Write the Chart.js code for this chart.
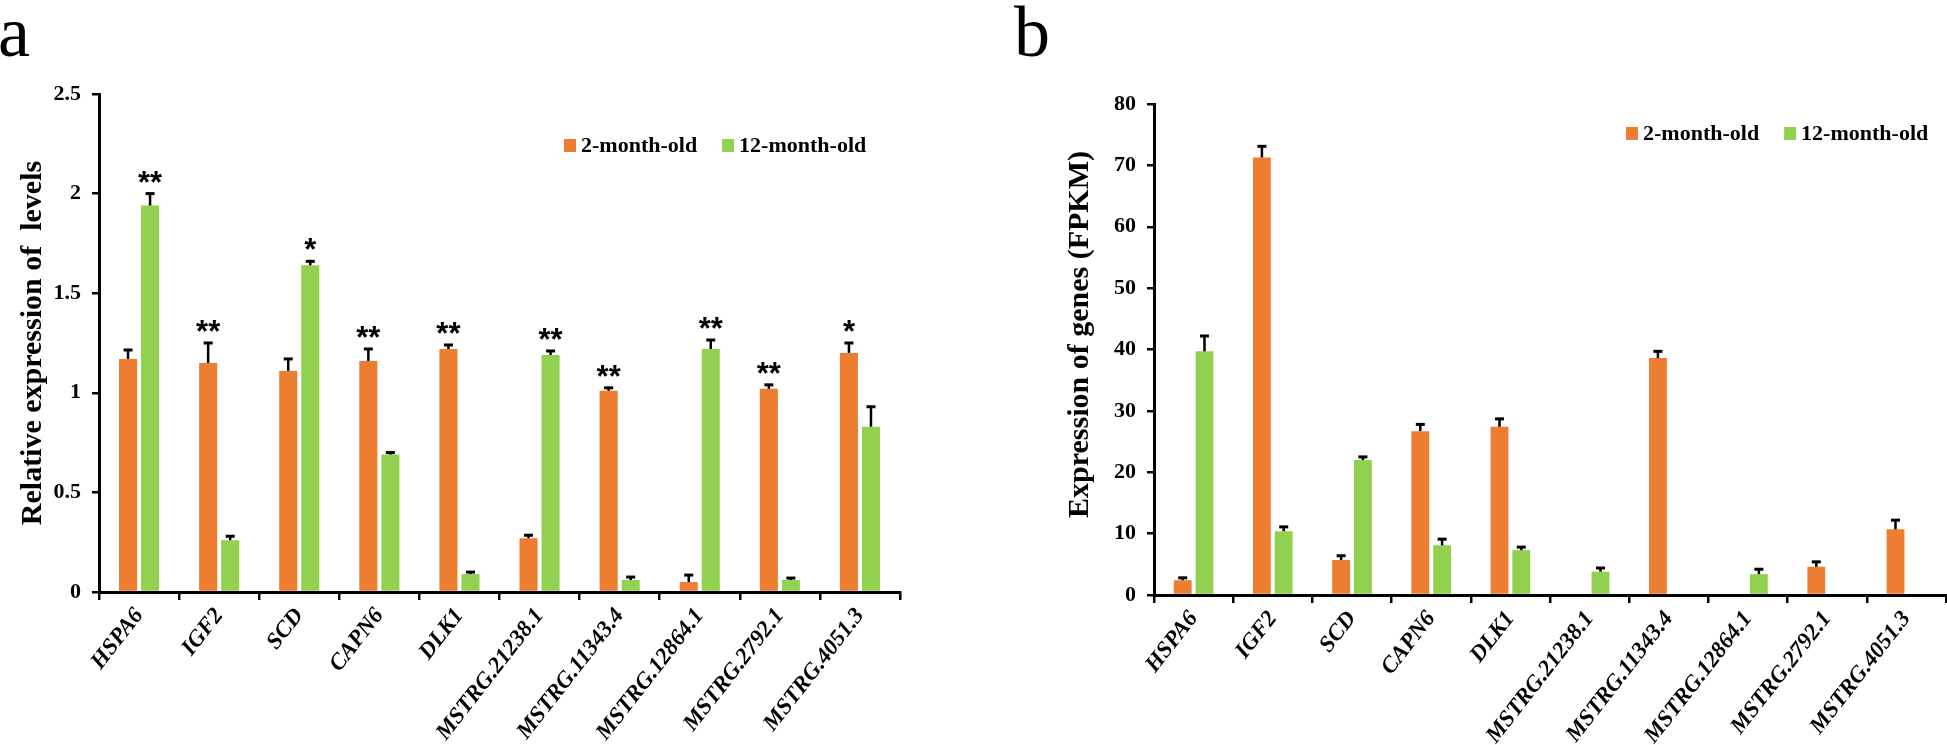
<!DOCTYPE html>
<html>
<head>
<meta charset="utf-8">
<script src="https://cdn.jsdelivr.net/npm/chart.js@4.4.1/dist/chart.umd.min.js"></script>
<style>
  body { margin: 0; background: #fff; }
  #wrap { position: relative; width: 1947px; height: 745px; overflow: hidden; }
  canvas { position: absolute; top: 0; }
  .tag { position: absolute; font: 72px "Times New Roman", "Liberation Serif", serif; line-height: 72px; color: #000; }
</style>
</head>
<body>
<div id="wrap">
  <div class="tag" style="left:-2px; top:-4px;">a</div>
  <div class="tag" style="left:1014px; top:-4px;">b</div>
  <canvas id="chartA" width="960" height="745" style="left:0"></canvas>
  <canvas id="chartB" width="987" height="745" style="left:960px"></canvas>
</div>
<script>
var genes = ["HSPA6", "IGF2", "SCD", "CAPN6", "DLK1", "MSTRG.21238.1", "MSTRG.11343.4", "MSTRG.12864.1", "MSTRG.2792.1", "MSTRG.4051.3"];
var seriesNames = ["2-month-old", "12-month-old"];

// panel a: qPCR relative expression
var relYoung    = [1.17, 1.15, 1.11, 1.16, 1.22, 0.27, 1.01, 0.05, 1.02, 1.20];
var relYoungErr = [0.045, 0.10, 0.06, 0.06, 0.02, 0.015, 0.015, 0.035, 0.02, 0.05];
var relOld      = [1.94, 0.26, 1.64, 0.69, 0.09, 1.19, 0.06, 1.22, 0.06, 0.83];
var relOldErr   = [0.06, 0.02, 0.02, 0.01, 0.01, 0.02, 0.015, 0.045, 0.01, 0.10];
var relYoungSig = ["", "**", "", "**", "**", "", "**", "", "**", "*"];
var relOldSig   = ["**", "", "*", "", "", "**", "", "**", "", ""];

// panel b: RNA-seq FPKM
var fpkmYoung    = [2.4, 71.3, 5.7, 26.7, 27.4, 0, 38.6, 0, 4.6, 10.7];
var fpkmYoungErr = [0.4, 1.8, 0.7, 1.1, 1.3, 0, 1.1, 0, 0.8, 1.5];
var fpkmOld      = [39.7, 10.4, 22.0, 8.1, 7.3, 3.8, 0, 3.4, 0, 0];
var fpkmOldErr   = [2.5, 0.7, 0.5, 1.0, 0.5, 0.6, 0, 0.8, 0, 0];

var relAxis = { min: 0, max: 2.5, step: 0.5 };
var fpkmAxis = { min: 0, max: 80, step: 10 };

var colors = ["#ED7D31", "#92D050"];
var serif = '"Times New Roman", "Liberation Serif", serif';

// error bars (upper only), significance stars and the little legend
var extras = {
  id: "extras",
  afterDatasetsDraw: function(chart, args, opts) {
    var ctx = chart.ctx;
    var y = chart.scales.y;
    ctx.save();
    chart.data.datasets.forEach(function(ds, di) {
      var meta = chart.getDatasetMeta(di);
      meta.data.forEach(function(bar, i) {
        var v = ds.data[i];
        var e = ds.errors[i];
        var top = y.getPixelForValue(v + e);
        if (e > 0) {
          ctx.strokeStyle = "#000";
          ctx.lineWidth = 2.5;
          ctx.beginPath();
          ctx.moveTo(bar.x, bar.y);
          ctx.lineTo(bar.x, top);
          ctx.stroke();
          ctx.lineWidth = 3;
          ctx.beginPath();
          ctx.moveTo(bar.x - 4.5, top);
          ctx.lineTo(bar.x + 4.5, top);
          ctx.stroke();
        }
        if (ds.stars && ds.stars[i]) {
          ctx.fillStyle = "#000";
          ctx.font = 'bold 31px "Liberation Sans", Arial, sans-serif';
          ctx.textAlign = "center";
          ctx.textBaseline = "alphabetic";
          ctx.fillText(ds.stars[i], bar.x, top - 1);
        }
      });
    });

    // legend
    var lx = opts.x, ly = opts.y;
    ctx.font = "bold 22px " + serif;
    ctx.textBaseline = "middle";
    ctx.textAlign = "left";
    chart.data.datasets.forEach(function(ds) {
      ctx.fillStyle = ds.backgroundColor;
      ctx.fillRect(lx, ly - 6, 12, 13);
      ctx.fillStyle = "#000";
      ctx.fillText(ds.label, lx + 17, ly + 1);
      lx += 17 + ctx.measureText(ds.label).width + 25;
    });
    ctx.restore();
  }
};

function makeChart(id, young, youngErr, youngSig, old, oldErr, oldSig, axis, title, box) {
  return new Chart(document.getElementById(id), {
    type: "bar",
    data: {
      labels: genes,
      datasets: [
        { label: seriesNames[0], data: young, errors: youngErr, stars: youngSig, backgroundColor: colors[0] },
        { label: seriesNames[1], data: old, errors: oldErr, stars: oldSig, backgroundColor: colors[1] }
      ]
    },
    options: {
      responsive: false,
      animation: false,
      devicePixelRatio: 1,
      categoryPercentage: 0.55,
      barPercentage: 0.82,
      layout: { padding: box.padding },
      plugins: {
        legend: { display: false },
        tooltip: { enabled: false },
        extras: { x: box.legendX, y: box.legendY }
      },
      scales: {
        x: {
          grid: { drawOnChartArea: false, drawTicks: true, tickLength: 8, color: "#000", lineWidth: 2.5 },
          border: { display: true, color: "#000", width: 3 },
          ticks: {
            color: "#000",
            font: { family: serif, size: 23, weight: "bold", style: "italic" },
            minRotation: 52, maxRotation: 52, autoSkip: false, padding: 3
          },
          afterFit: function(s) { s.height = box.xHeight; }
        },
        y: {
          min: axis.min, max: axis.max,
          grid: { drawOnChartArea: false, drawTicks: true, tickLength: 7, color: "#000", lineWidth: 2.5 },
          border: { display: true, color: "#000", width: 3 },
          ticks: {
            stepSize: axis.step,
            color: "#000",
            font: { family: serif, size: 22, weight: "bold" },
            padding: 11,
            callback: function(v) { return String(+Number(v).toFixed(2)); }
          },
          title: {
            display: true, text: title, color: "#000",
            font: { family: serif, size: 30, weight: "bold" },
            padding: { top: 15, bottom: 0 }
          },
          afterFit: function(s) { s.width = box.yWidth; }
        }
      }
    },
    plugins: [extras]
  });
}

makeChart("chartA", relYoung, relYoungErr, relYoungSig, relOld, relOldErr, relOldSig, relAxis,
  "Relative expression of  levels",
  { padding: { left: 0, top: 94, right: 60, bottom: 0 }, yWidth: 99, xHeight: 153, legendX: 564, legendY: 145 });

makeChart("chartB", fpkmYoung, fpkmYoungErr, [], fpkmOld, fpkmOldErr, [], fpkmAxis,
  "    Expression of genes (FPKM)",
  { padding: { left: 87, top: 104, right: 1, bottom: 0 }, yWidth: 107, xHeight: 150, legendX: 666, legendY: 133 });
</script>
</body>
</html>
